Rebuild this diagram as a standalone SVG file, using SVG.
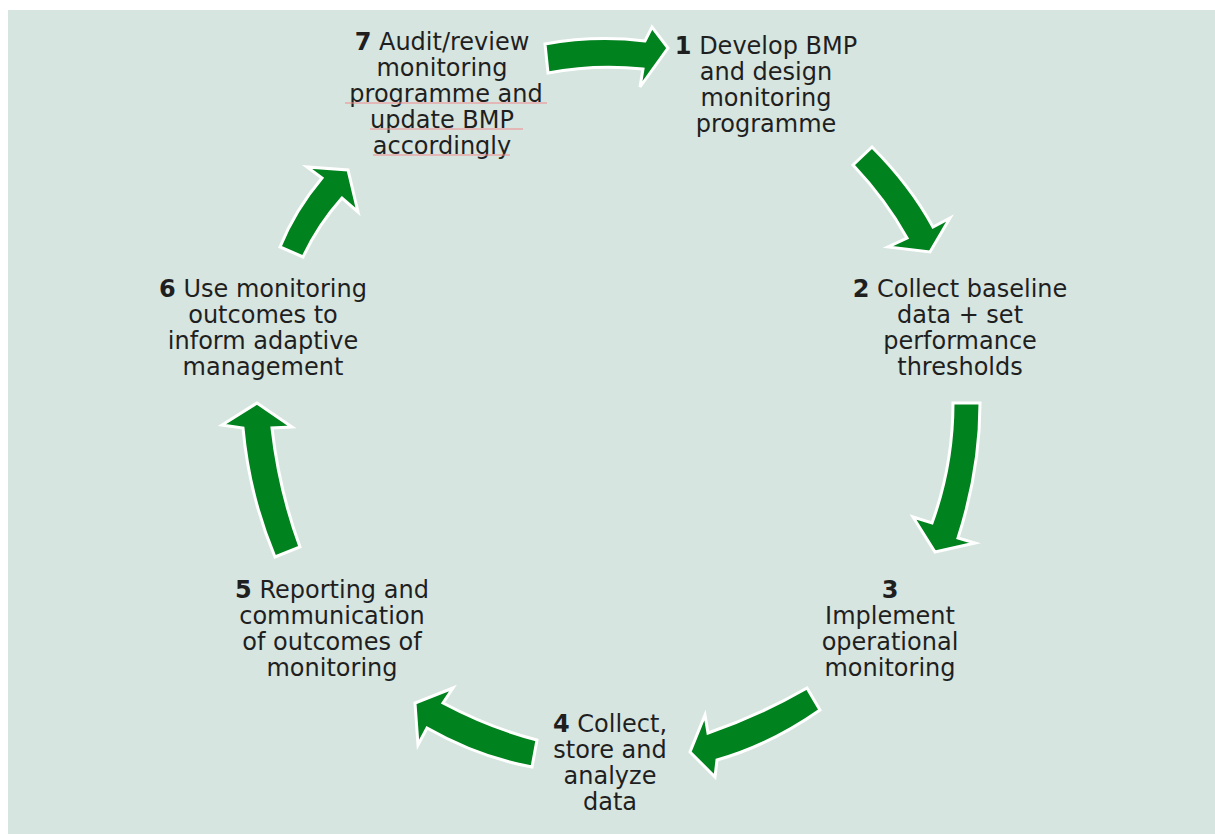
<svg xmlns="http://www.w3.org/2000/svg" width="1215" height="834" viewBox="0 0 1215 834">
<style>
.t{font-family:"DejaVu Sans","Verdana",sans-serif;font-size:24px;fill:#1f1f1f;text-anchor:middle}
.b{font-weight:bold}
.arr{fill:#00821e;stroke:#ffffff;stroke-width:3;stroke-linejoin:miter}
.ul{stroke:#f08a8a;stroke-width:1.2}
</style>
<rect x="8" y="10" width="1207" height="824" fill="#d6e5e0"/>
<g id="connectors">
<path class="arr" d="M545,44 Q595,35 645,41 L652,27 L668,48 L640,87 L643,69 Q595,64 548,73 Z"/>
<path class="arr" d="M872,147 Q910,185 933,227 L950,218 L930,252 L888,247 L907,238 Q886,200 853,165 Z"/>
<path class="arr" d="M953,403 L980,403 Q980,470 958,538 L975,543 L935,552 L913,517 L932,523 Q953,465 953,403 Z"/>
<path class="arr" d="M807,688 L820,710 Q770,745 717,760 L715,777 L690,752 L705,715 L708,733 Q760,715 807,688 Z"/>
<path class="arr" d="M537,740 Q490,728 443,703 L453,688 L415,703 L418,745 L427,728 Q478,757 532,767 Z"/>
<path class="arr" d="M300,547 Q279,490 272,428 L292,427 L257,403 L222,425 L243,428 Q249,495 275,557 Z"/>
<path class="arr" d="M303,257 Q318,225 342,198 L358,212 L348,170 L307,167 L322,178 Q295,210 280,247 Z"/>
</g>
<g id="node1">
<text class="t" x="766" y="54"><tspan class="b">1</tspan> Develop BMP</text>
<text class="t" x="766" y="80">and design</text>
<text class="t" x="766" y="106">monitoring</text>
<text class="t" x="766" y="132">programme</text>
</g>
<g id="node2">
<text class="t" x="960" y="297"><tspan class="b">2</tspan> Collect baseline</text>
<text class="t" x="960" y="323">data + set</text>
<text class="t" x="960" y="349">performance</text>
<text class="t" x="960" y="375">thresholds</text>
</g>
<g id="node3">
<text class="t b" x="890" y="598">3</text>
<text class="t" x="890" y="624">Implement</text>
<text class="t" x="890" y="650">operational</text>
<text class="t" x="890" y="676">monitoring</text>
</g>
<g id="node4">
<text class="t" x="610" y="732"><tspan class="b">4</tspan> Collect,</text>
<text class="t" x="610" y="758">store and</text>
<text class="t" x="610" y="784">analyze</text>
<text class="t" x="610" y="810">data</text>
</g>
<g id="node5">
<text class="t" x="332" y="598"><tspan class="b">5</tspan> Reporting and</text>
<text class="t" x="332" y="624">communication</text>
<text class="t" x="332" y="650">of outcomes of</text>
<text class="t" x="332" y="676">monitoring</text>
</g>
<g id="node6">
<text class="t" x="263" y="297"><tspan class="b">6</tspan> Use monitoring</text>
<text class="t" x="263" y="323">outcomes to</text>
<text class="t" x="263" y="349">inform adaptive</text>
<text class="t" x="263" y="375">management</text>
</g>
<g id="node7">
<text class="t" x="442" y="50"><tspan class="b">7</tspan> Audit/review</text>
<text class="t" x="442" y="76">monitoring</text>
<text class="t" x="446" y="102">programme and</text>
<text class="t" x="442" y="128">update BMP</text>
<text class="t" x="442" y="154">accordingly</text>
<line class="ul" x1="345" y1="103" x2="547" y2="103"/>
<line class="ul" x1="370" y1="129" x2="523" y2="129"/>
<line class="ul" x1="373" y1="155" x2="510" y2="155"/>
</g>
</svg>
